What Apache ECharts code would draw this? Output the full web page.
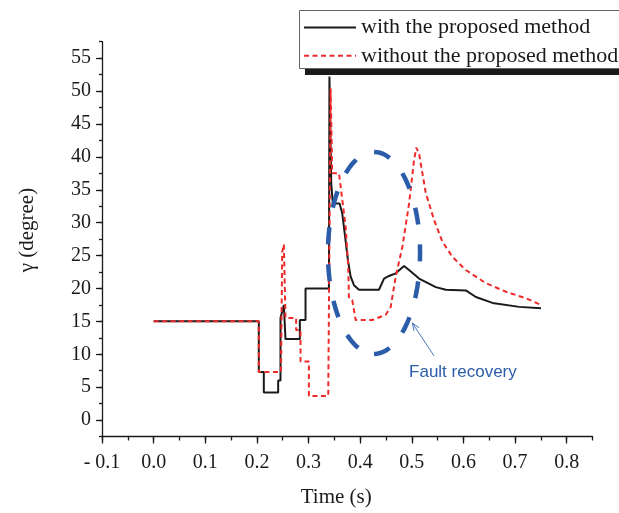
<!DOCTYPE html>
<html>
<head>
<meta charset="utf-8">
<script src="https://cdn.jsdelivr.net/npm/echarts@6/dist/echarts.min.js"></script>
<style>
  html, body { margin: 0; padding: 0; background: #fff; }
  #chart { width: 619px; height: 513px; }
</style>
</head>
<body>
<div id="chart"></div>
<script>
// Rotor angle response after the fault, with and without the proposed method
const seriesNames = ['with the proposed method', 'without the proposed method'];

const timeWith = [0, 0.2037, 0.2037, 0.2134, 0.2134, 0.2412, 0.2412, 0.2457, 0.2457, 0.2522, 0.2554,
  0.2832, 0.2832, 0.2942, 0.2942, 0.3395, 0.3405, 0.3440, 0.3470, 0.3602, 0.3653, 0.3705, 0.3763,
  0.3816, 0.3880, 0.3977, 0.4365, 0.4462, 0.4559, 0.4689, 0.4850, 0.4947, 0.5141, 0.5465, 0.5659,
  0.6047, 0.6241, 0.6563, 0.7081, 0.7502];
const gammaWith = [15, 15, 7.3, 7.3, 4.2, 4.2, 6.0, 6.0, 15.5, 17.5, 12.3,
  12.3, 15.2, 15.2, 20.0, 20.0, 52.2, 36.0, 32.9, 32.9, 31.4, 28.1, 24.3,
  21.8, 20.5, 19.8, 19.8, 21.5, 21.9, 22.3, 23.4, 22.8, 21.5, 20.2, 19.8,
  19.7, 18.7, 17.8, 17.2, 17.0];

const timeWithout = [0, 0.2037, 0.2037, 0.2467, 0.2490, 0.2522, 0.2554, 0.2760, 0.2760, 0.2845, 0.2845,
  0.3007, 0.3007, 0.3382, 0.3428, 0.3459, 0.3589, 0.3622, 0.3719, 0.3769, 0.3783, 0.3847, 0.3913,
  0.4235, 0.4495, 0.4592, 0.4689, 0.4817, 0.4947, 0.5044, 0.5088, 0.5141, 0.5271, 0.5432, 0.5593,
  0.5787, 0.6047, 0.6435, 0.6823, 0.7211, 0.7502];
const gammaWithout = [15, 15, 7.3, 7.3, 25.5, 26.7, 15.5, 15.5, 13.7, 13.7, 8.9,
  8.9, 3.65, 3.65, 50.4, 37.5, 37.5, 35.5, 29.4, 23.3, 18.5, 18.2, 15.2,
  15.2, 16.0, 17.2, 21.8, 26.3, 32.9, 39.5, 41.4, 40.5, 34.5, 30.4, 27.1,
  24.8, 22.8, 20.8, 19.5, 18.5, 17.5];

const xTicks = [-0.1, 0, 0.1, 0.2, 0.3, 0.4, 0.5, 0.6, 0.7, 0.8];
const yTicks = [0, 5, 10, 15, 20, 25, 30, 35, 40, 45, 50, 55];

const SERIF = '"Liberation Serif", "Times New Roman", serif';
const SANS = '"Liberation Sans", Arial, sans-serif';
const BLUE = '#2a5caa';

const zip = (a, b) => a.map((v, i) => [v, b[i]]);

const chart = echarts.init(document.getElementById('chart'), null, { renderer: 'canvas' });

const axisLineStyle = { color: '#1a1a1a', width: 1.3 };

chart.setOption({
  animation: false,
  backgroundColor: '#ffffff',
  grid: { left: 102, right: 26.5, top: 41.7, bottom: 76.5, containLabel: false },
  xAxis: [
    {
      type: 'value', min: -0.1, max: 0.85, interval: 0.05, position: 'bottom',
      axisLine: { show: true, onZero: false, lineStyle: axisLineStyle },
      axisTick: { show: true, length: 4, lineStyle: axisLineStyle },
      axisLabel: { show: false },
      splitLine: { show: false },
      name: 'Time (s)', nameLocation: 'middle', nameGap: 50,
      nameTextStyle: { fontFamily: SERIF, fontSize: 21, color: '#1a1a1a', padding: [0, 22, 0, 0] }
    },
    {
      type: 'value', min: -0.1, max: 0.85, position: 'bottom',
      axisLine: { show: false, onZero: false },
      axisTick: { show: true, length: 7, customValues: xTicks, lineStyle: axisLineStyle },
      axisLabel: {
        show: true, customValues: xTicks, margin: 16,
        fontFamily: SERIF, fontSize: 20, color: '#1a1a1a',
        formatter: v => (v < 0 ? '- ' + Math.abs(v).toFixed(1) : v.toFixed(1))
      },
      splitLine: { show: false }
    }
  ],
  yAxis: [
    {
      type: 'value', min: -2.5, max: 57.5, interval: 2.5, position: 'left',
      axisLine: { show: true, onZero: false, lineStyle: axisLineStyle },
      axisTick: { show: true, length: 3, lineStyle: axisLineStyle },
      axisLabel: { show: false },
      splitLine: { show: false },
      name: 'γ (degree)', nameLocation: 'middle', nameGap: 64, nameRotate: 90,
      nameTextStyle: { fontFamily: SERIF, fontSize: 21, color: '#1a1a1a', padding: [0, 0, 0, 18] }
    },
    {
      type: 'value', min: -2.5, max: 57.5, position: 'left',
      axisLine: { show: false, onZero: false },
      axisTick: { show: true, length: 6, customValues: yTicks, lineStyle: axisLineStyle },
      axisLabel: {
        show: true, customValues: yTicks, margin: 11,
        fontFamily: SERIF, fontSize: 20, color: '#1a1a1a'
      },
      splitLine: { show: false }
    }
  ],
  legend: {
    data: seriesNames,
    orient: 'vertical',
    left: 303, top: 16.5,
    padding: 0,
    itemWidth: 52, itemHeight: 14, itemGap: 6.3,
    itemStyle: { opacity: 0 },
    textStyle: { fontFamily: SERIF, fontSize: 22, color: '#1a1a1a', lineHeight: 22 },
    z: 20
  },
  series: [
    {
      name: seriesNames[0], type: 'line', xAxisIndex: 0, yAxisIndex: 0,
      data: zip(timeWith, gammaWith),
      showSymbol: false, symbol: 'none',
      lineStyle: { color: '#1a1a1a', width: 2 },
      itemStyle: { color: '#1a1a1a' },
      z: 3
    },
    {
      name: seriesNames[1], type: 'line', xAxisIndex: 0, yAxisIndex: 0,
      data: zip(timeWithout, gammaWithout),
      showSymbol: false, symbol: 'none',
      lineStyle: { color: '#ee2a2a', width: 2, type: [5, 3.5] },
      itemStyle: { color: '#ee2a2a' },
      z: 4
    }
  ]
});

// Annotation: dashed ellipse around the recovery region, arrow and label
const toPx = p => chart.convertToPixel({ xAxisIndex: 0, yAxisIndex: 0 }, p);
const ellipseCenter = [0.4268, 25.4];
const ellipseRadius = [0.0892, 15.35];
const ellipsePts = [];
for (let i = 0; i <= 96; i++) {
  const a = (i / 96) * Math.PI * 2 - Math.PI / 2;
  ellipsePts.push(toPx([ellipseCenter[0] + ellipseRadius[0] * Math.cos(a),
                        ellipseCenter[1] + ellipseRadius[1] * Math.sin(a)]));
}
const arrowTail = toPx([0.5432, 9.73]);
const arrowHead = toPx([0.5011, 14.74]);
const ang = Math.atan2(arrowHead[1] - arrowTail[1], arrowHead[0] - arrowTail[0]);
const headLen = 8, headSpread = 0.38;
const wingA = [arrowHead[0] - headLen * Math.cos(ang - headSpread), arrowHead[1] - headLen * Math.sin(ang - headSpread)];
const wingB = [arrowHead[0] - headLen * Math.cos(ang + headSpread), arrowHead[1] - headLen * Math.sin(ang + headSpread)];
const labelPos = toPx([0.4947, 7.3]);

chart.setOption({
  graphic: [
    {
      type: 'polyline', z: 10, silent: true,
      shape: { points: ellipsePts },
      style: { stroke: BLUE, lineWidth: 4.5, fill: null, lineDash: [17, 20], lineCap: 'butt' }
    },
    {
      type: 'line', z: 10, silent: true,
      shape: { x1: arrowTail[0], y1: arrowTail[1], x2: arrowHead[0], y2: arrowHead[1] },
      style: { stroke: '#4a73b8', lineWidth: 1 }
    },
    {
      type: 'polyline', z: 10, silent: true,
      shape: { points: [wingA, arrowHead, wingB] },
      style: { stroke: '#4a73b8', lineWidth: 1, fill: null }
    },
    {
      type: 'text', z: 10, silent: true,
      x: labelPos[0], y: labelPos[1],
      style: { text: 'Fault recovery', fill: BLUE, font: '17px ' + SANS, align: 'left', verticalAlign: 'middle' }
    },
    // legend frame with its hard drop shadow
    {
      type: 'rect', z: 18, silent: true,
      shape: { x: 305, y: 16, width: 400, height: 59 },
      style: { fill: '#1a1a1a' }
    },
    {
      type: 'rect', z: 19, silent: true,
      shape: { x: 299.5, y: 10.5, width: 400, height: 58 },
      style: { fill: '#ffffff', stroke: '#666666', lineWidth: 1 }
    }
  ]
});
</script>
</body>
</html>
